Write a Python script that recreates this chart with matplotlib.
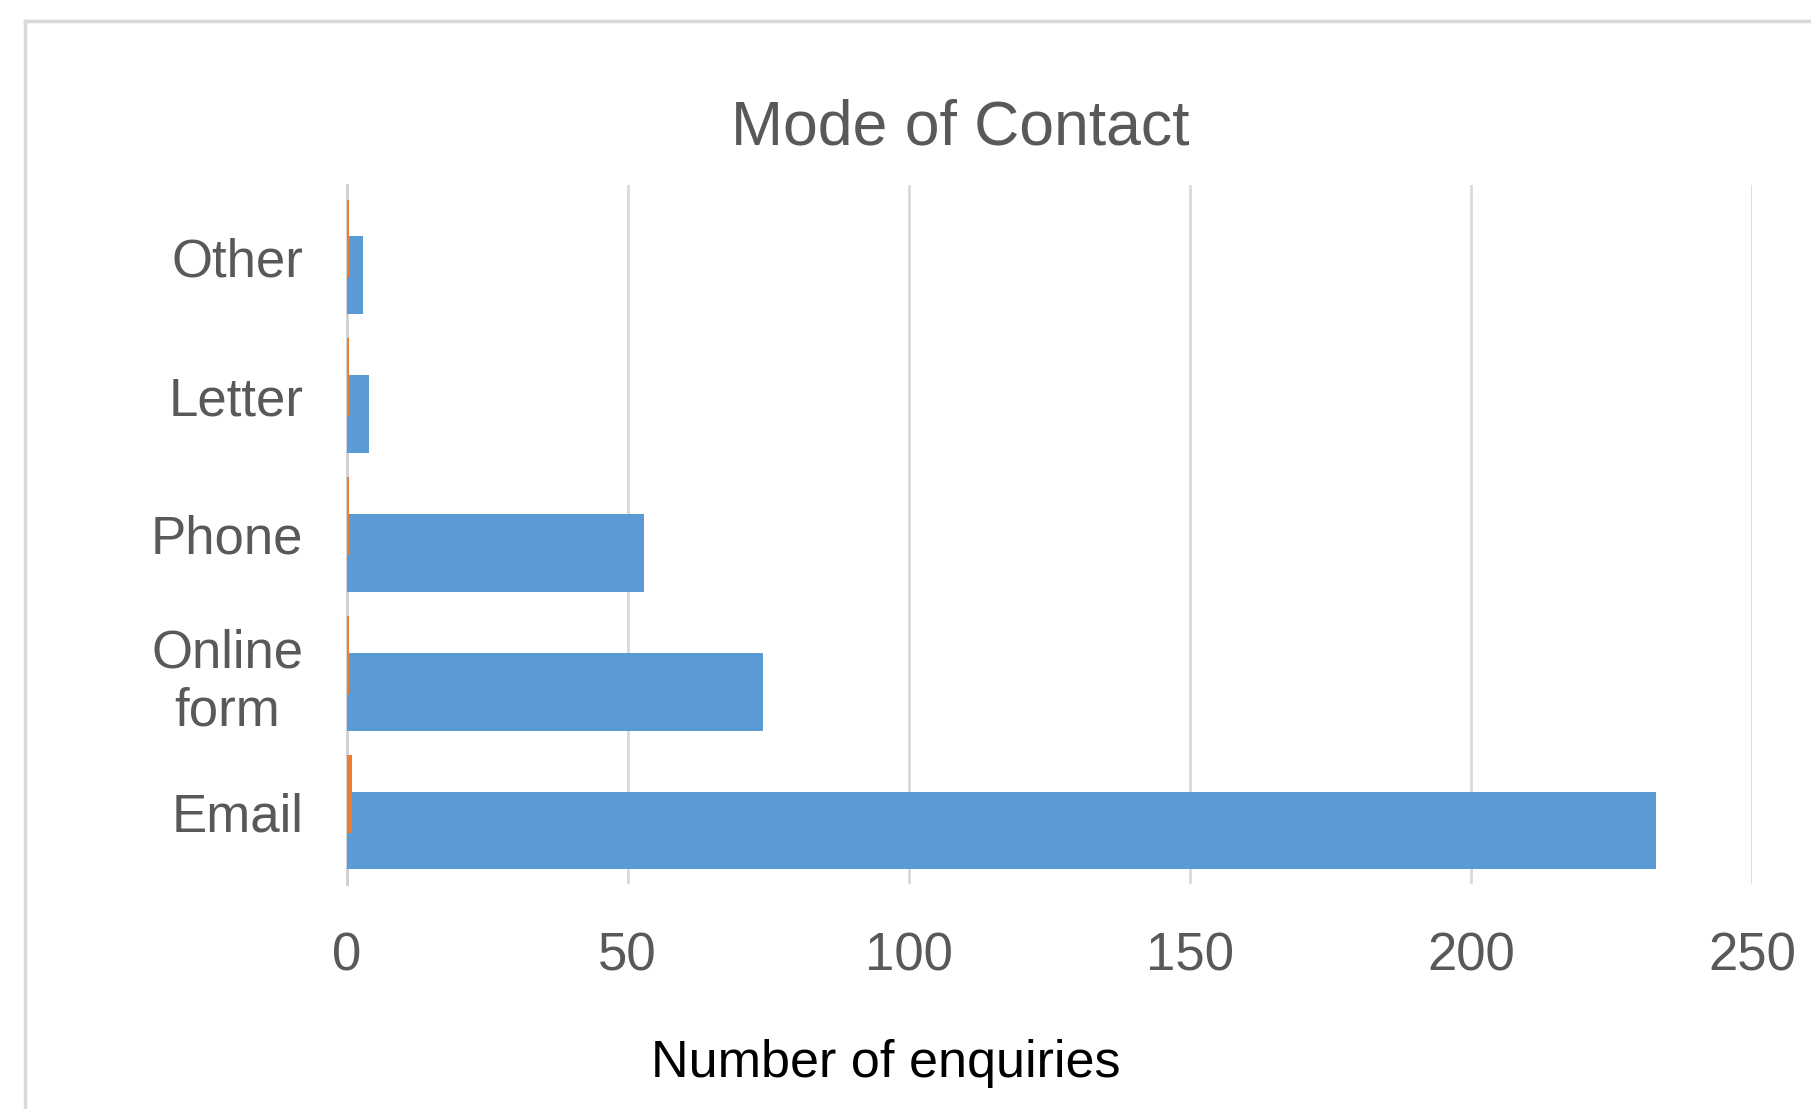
import matplotlib.pyplot as plt
from matplotlib.lines import Line2D

# Data; bottom to top
categories = ["Email", "Online\nform", "Phone", "Letter", "Other"]
enquiries = [233, 74, 53, 4, 3]
second_series = [0.9, 0.5, 0.5, 0.5, 0.5]
x_ticks = [0, 50, 100, 150, 200, 250]

plt.rcParams['font.family'] = ['Liberation Sans', 'DejaVu Sans']

W, H = 1811, 1109
fig = plt.figure(figsize=(W / 100, H / 100), dpi=100)
ax = fig.add_axes([346.5 / W, 1 - 884 / H, (1752 - 346.5) / W, (884 - 185) / H])

pos = list(range(len(categories)))
h = 0.557
off = 0.133
ax.barh([p - off for p in pos], enquiries, height=h, color='#5b9bd5', zorder=3)
ax.barh([p + off for p in pos], second_series, height=h, color='#ed7d31', zorder=4)

ax.set_xlim(0, 250)
ax.set_ylim(-0.516, 4.516)
ax.set_xticks(x_ticks)
ax.set_yticks(pos)
ax.set_yticklabels(categories, multialignment='center')
ax.tick_params(axis='both', length=0, labelsize=38, labelcolor='#595959')
ax.tick_params(axis='x', pad=34)
ax.tick_params(axis='y', pad=31)

for s in ['top', 'right', 'bottom']:
    ax.spines[s].set_visible(False)
ax.spines['left'].set_color('#d0d0d0')
ax.spines['left'].set_linewidth(2)
ax.spines['left'].set_zorder(2)
ax.grid(axis='x', color='#d9d9d9', linewidth=2, zorder=0)
ax.set_axisbelow(True)

fig.text(960 / W, 1 - 128 / H, "Mode of Contact", ha='center', va='center',
         fontsize=45, color='#595959')
fig.text(886 / W, 1 - 1063 / H, "Number of enquiries", ha='center', va='center',
         fontsize=37.5, color='black')

# outer chart frame (cropped at right and bottom)
fig.add_artist(Line2D([25 / W, 1.0], [1 - 21 / H, 1 - 21 / H], color='#d9d9d9', linewidth=2.5,
                      transform=fig.transFigure))
fig.add_artist(Line2D([25 / W, 25 / W], [1 - 21 / H, 0], color='#d9d9d9', linewidth=2.5,
                      transform=fig.transFigure))

fig.savefig('out.png', dpi=100)
